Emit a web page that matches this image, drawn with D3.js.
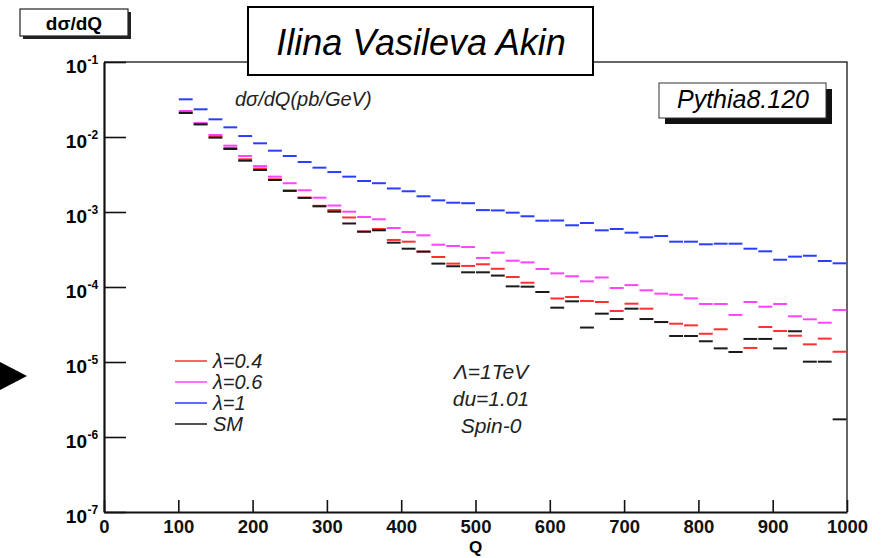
<!DOCTYPE html>
<html>
<head>
<meta charset="utf-8">
<script src="https://cdn.jsdelivr.net/npm/d3@7"></script>
<style>
  body { margin: 0; background: #fff; }
  svg text { font-family: "Liberation Sans", Arial, Helvetica, sans-serif; }
</style>
</head>
<body>
<script>
// d sigma / dQ histograms, 20 GeV bins from 100 to 1000

var width = 881;
var height = 558;

var binCenters = [110, 130, 150, 170, 190, 210, 230, 250, 270, 290,
                  310, 330, 350, 370, 390, 410, 430, 450, 470, 490,
                  510, 530, 550, 570, 590, 610, 630, 650, 670, 690,
                  710, 730, 750, 770, 790, 810, 830, 850, 870, 890,
                  910, 930, 950, 970, 990];
var binWidth = 20;

var lambda04 = [0.0212, 0.0149, 0.0101, 0.00713, 0.00505, 0.0038, 0.00273, 0.00194, 0.00156, 0.00121,
                0.00106, 0.000845, 0.00055, 0.000593, 0.000424, 0.000402, 0.000297, 0.000251, 0.000205, 0.000191,
                0.000201, 0.000175, 0.000136, 0.000114, 0.0000858, 0.0000703, 0.0000736, 0.000065, 0.0000631, 0.0000479,
                0.0000599, 0.0000514, 0.0000341, 0.0000324, 0.0000308, 0.0000238, 0.0000273, 0.0000136, 0.0000154, 0.0000293,
                0.0000259, 0.0000224, 0.0000172, 0.0000205, 0.0000137];

var lambda06 = [0.0222, 0.0154, 0.01064, 0.00766, 0.00558, 0.0041, 0.00296, 0.00242, 0.00195, 0.00155,
                0.00122, 0.00101, 0.000858, 0.0008, 0.000612, 0.000541, 0.000489, 0.000366, 0.000352, 0.000341,
                0.000244, 0.000287, 0.000224, 0.000213, 0.000174, 0.000152, 0.000139, 0.000119, 0.000134, 0.000097,
                0.000106, 0.0000904, 0.0000815, 0.0000789, 0.0000706, 0.0000593, 0.0000593, 0.0000424, 0.0000631, 0.0000546,
                0.0000593, 0.0000407, 0.0000371, 0.0000334, 0.0000493];

var lambda1 = [0.0318, 0.0234, 0.0172, 0.01346, 0.0103, 0.00824, 0.00657, 0.00558, 0.00464, 0.0039,
               0.00341, 0.00296, 0.00259, 0.00242, 0.00206, 0.00189, 0.00162, 0.00143, 0.00133, 0.00131,
               0.00106, 0.00105, 0.00098, 0.000877, 0.000766, 0.00077, 0.000665, 0.000713, 0.00057, 0.000593,
               0.00053, 0.00046, 0.000479, 0.000402, 0.000402, 0.000371, 0.000378, 0.000378, 0.000324, 0.000299,
               0.000231, 0.000254, 0.000261, 0.000222, 0.000207];

var smValues = [0.0209, 0.0147, 0.0098, 0.00692, 0.00483, 0.00363, 0.00267, 0.00191, 0.00154, 0.00119,
                0.00101, 0.000703, 0.000546, 0.00057, 0.00039, 0.000324, 0.000296, 0.000205, 0.000189, 0.000157,
                0.000157, 0.000142, 0.000102, 0.000101, 0.0000858, 0.000053, 0.0000644, 0.0000288, 0.0000441, 0.0000374,
                0.0000514, 0.0000374, 0.0000341, 0.0000222, 0.0000222, 0.0000189, 0.0000152, 0.0000136, 0.0000203, 0.0000203,
                0.0000152, 0.0000257, 0.0000101, 0.0000101, 0.00000172];

var xTicks = [0, 100, 200, 300, 400, 500, 600, 700, 800, 900, 1000];
var yExponents = [-7, -6, -5, -4, -3, -2, -1];

var legendLabels = ["\u03bb=0.4", "\u03bb=0.6", "\u03bb=1", "SM"];
var notes = ["\u039b=1TeV", "du=1.01", "Spin-0"];

var series = [
  { label: legendLabels[2], values: lambda1, color: "#2a3cff" },
  { label: legendLabels[1], values: lambda06, color: "#ff44ff" },
  { label: legendLabels[0], values: lambda04, color: "#ff3030" },
  { label: legendLabels[3], values: smValues, color: "#1a1a1a" }
];

var svg = d3.select("body")
  .append("svg")
    .attr("width", width)
    .attr("height", height);

var x = d3.scaleLinear().domain([0, 1000]).range([104, 847]);
var y = d3.scaleLog().domain([1e-7, 1e-1]).range([512, 62]);

// frame (top and right sides)
svg.append("path")
  .attr("d", "M" + x.range()[0] + "," + y.range()[1] + "H" + x.range()[1] + "V" + y.range()[0])
  .attr("fill", "none")
  .attr("stroke", "#333")
  .attr("stroke-width", 1.5);

// histograms
series.forEach(function(s) {
  svg.append("g")
    .selectAll("line")
    .data(s.values)
    .enter()
    .append("line")
      .attr("x1", function(d, i) { return x(binCenters[i] - binWidth / 2) + 0.5; })
      .attr("x2", function(d, i) { return x(binCenters[i] + binWidth / 2) - 0.5; })
      .attr("y1", function(d) { return y(d); })
      .attr("y2", function(d) { return y(d); })
      .attr("stroke", s.color)
      .attr("stroke-width", 2);
});

// x axis
var xAxis = svg.append("g")
  .attr("transform", "translate(0," + y.range()[0] + ")");

xAxis.call(d3.axisBottom(x)
  .tickValues(d3.range(0, 1001, 20))
  .tickSize(-6)
  .tickSizeOuter(0)
  .tickPadding(9)
  .tickFormat(""));

xAxis.call(d3.axisBottom(x)
  .tickValues(xTicks)
  .tickSize(-12)
  .tickSizeOuter(0)
  .tickPadding(8)
  .tickFormat(d3.format("d")));

xAxis.selectAll("text")
  .style("font-size", "18.5px")
  .style("font-weight", "bold")
  .attr("fill", "#111");

xAxis.selectAll("path, line").attr("stroke", "#111").attr("stroke-width", 1.6);
xAxis.select(".domain").attr("stroke-width", 2.2);

svg.append("text")
  .attr("x", x(500))
  .attr("y", 553)
  .attr("text-anchor", "middle")
  .style("font-size", "17px")
  .style("font-weight", "bold")
  .text("Q");

// y axis
var yMinor = [];
yExponents.slice(0, -1).forEach(function(e) {
  for (var m = 2; m <= 9; m++) yMinor.push(m * Math.pow(10, e));
});

var yAxis = svg.append("g")
  .attr("transform", "translate(" + x.range()[0] + ",0)");

yAxis.call(d3.axisLeft(y)
  .tickValues(yMinor)
  .tickSize(-11)
  .tickSizeOuter(0)
  .tickFormat(""));

yAxis.call(d3.axisLeft(y)
  .tickValues(yExponents.map(function(e) { return Math.pow(10, e); }))
  .tickSize(-22)
  .tickSizeOuter(0)
  .tickFormat(""));

yAxis.selectAll("path, line").attr("stroke", "#111").attr("stroke-width", 1.6);
yAxis.select(".domain").attr("stroke-width", 2.2);

yExponents.forEach(function(e) {
  var ty = y(Math.pow(10, e));
  svg.append("text")
    .attr("x", 87)
    .attr("y", ty + 11)
    .attr("text-anchor", "end")
    .style("font-size", "19px")
    .style("font-weight", "bold")
    .text("10");
  svg.append("text")
    .attr("x", 87.5)
    .attr("y", ty + 2)
    .style("font-size", "12px")
    .style("font-weight", "bold")
    .text(e);
});

// y title box
svg.append("rect").attr("x", 23).attr("y", 12).attr("width", 108).attr("height", 27).attr("fill", "#222");
svg.append("rect").attr("x", 20).attr("y", 9).attr("width", 108).attr("height", 27)
  .attr("fill", "#fff").attr("stroke", "#222").attr("stroke-width", 1.2);
svg.append("text")
  .attr("x", 74)
  .attr("y", 30)
  .attr("text-anchor", "middle")
  .style("font-size", "19px")
  .style("font-weight", "bold")
  .text("d\u03c3/dQ");

// title box
svg.append("rect").attr("x", 248).attr("y", 7).attr("width", 345).attr("height", 68)
  .attr("fill", "#fff").attr("stroke", "#000").attr("stroke-width", 2);
svg.append("text")
  .attr("x", 421)
  .attr("y", 55)
  .attr("text-anchor", "middle")
  .style("font-size", "36px")
  .style("font-style", "italic")
  .text("Ilina Vasileva Akin");

// Pythia box
svg.append("rect").attr("x", 665).attr("y", 89).attr("width", 167).attr("height", 35).attr("fill", "#111");
svg.append("rect").attr("x", 659).attr("y", 83).attr("width", 167).attr("height", 35)
  .attr("fill", "#fff").attr("stroke", "#333").attr("stroke-width", 1);
svg.append("text")
  .attr("x", 743)
  .attr("y", 108)
  .attr("text-anchor", "middle")
  .style("font-size", "25px")
  .style("font-style", "italic")
  .text("Pythia8.120");

// units label
svg.append("text")
  .attr("x", 235)
  .attr("y", 106)
  .style("font-size", "20px")
  .style("font-style", "italic")
  .attr("fill", "#222")
  .text("d\u03c3/dQ(pb/GeV)");

// legend
var legendColors = ["#ff3030", "#ff44ff", "#2a3cff", "#1a1a1a"];
var legend = svg.append("g");
legendLabels.forEach(function(label, i) {
  var ly = 361 + i * 21;
  legend.append("line")
    .attr("x1", 175).attr("x2", 207)
    .attr("y1", ly).attr("y2", ly)
    .attr("stroke", legendColors[i])
    .attr("stroke-width", 1.5);
  legend.append("text")
    .attr("x", 213)
    .attr("y", ly + 7)
    .style("font-size", "20px")
    .style("font-style", "italic")
    .attr("fill", "#222")
    .text(label);
});

// notes
notes.forEach(function(n, i) {
  svg.append("text")
    .attr("x", 491)
    .attr("y", 379 + i * 27)
    .attr("text-anchor", "middle")
    .style("font-size", "21px")
    .style("font-style", "italic")
    .attr("fill", "#222")
    .text(n);
});

// arrow marker on the left
svg.append("path")
  .attr("d", "M0,362L27,376L0,390Z")
  .attr("fill", "#000");
</script>
</body>
</html>
